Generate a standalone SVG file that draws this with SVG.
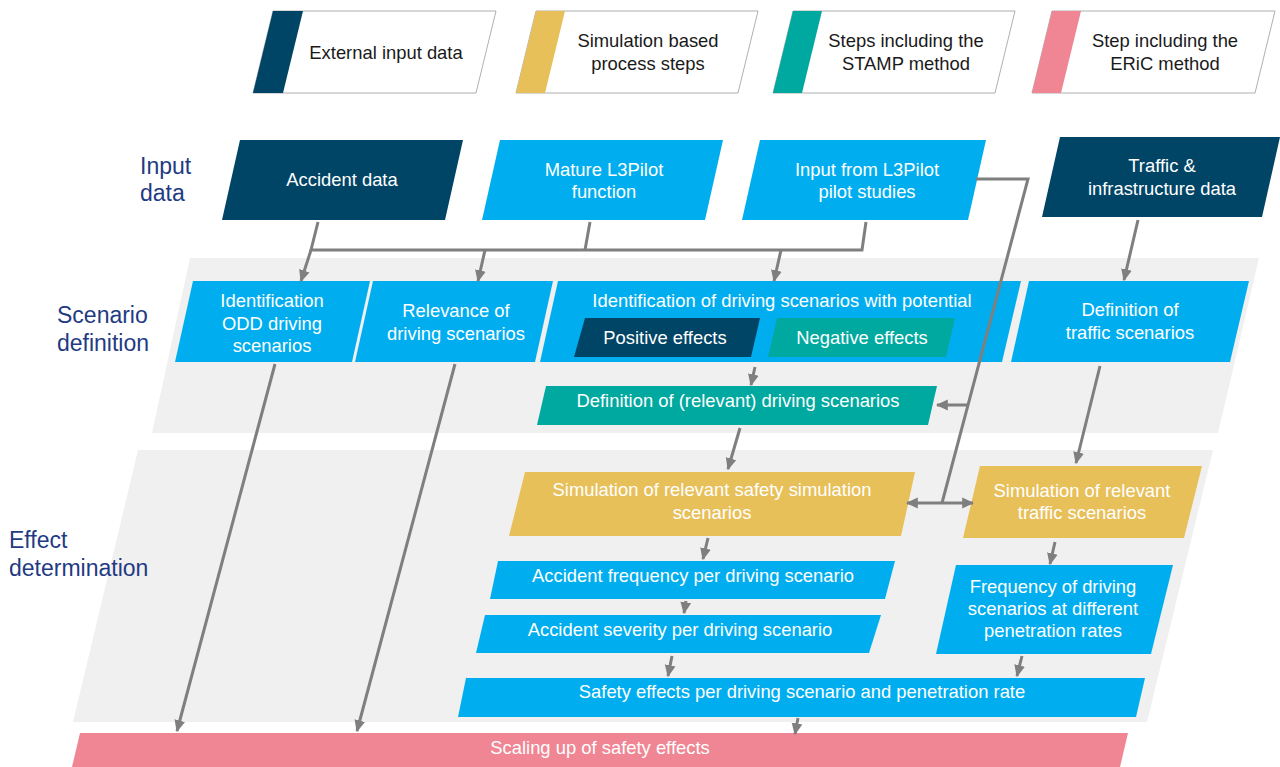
<svg xmlns="http://www.w3.org/2000/svg" width="1280" height="767" viewBox="0 0 1280 767">
<defs>
<style>
.t{font-family:"Liberation Sans",Arial,sans-serif;font-size:18.4px;fill:#ffffff;text-anchor:middle}
.lg{font-family:"Liberation Sans",Arial,sans-serif;font-size:18.4px;fill:#1a1a1a;text-anchor:middle}
.sec{font-family:"Liberation Sans",Arial,sans-serif;font-size:23px;fill:#1F3B83}
.blue{fill:#00AEEF}
.navy{fill:#004466}
.teal{fill:#00A9A0}
.gold{fill:#E8C05A}
.pink{fill:#F08593}
.band{fill:#F0F0F0}
.legbox{fill:#ffffff;stroke:#9a9a9a;stroke-width:0.8}
.c{fill:none;stroke:#7F7F7F;stroke-width:3}
.a{fill:none;stroke:#7F7F7F;stroke-width:3;marker-end:url(#ah)}
.d{fill:none;stroke:#7F7F7F;stroke-width:3;marker-end:url(#ah);marker-start:url(#ah)}
</style>
<marker id="ah" viewBox="0 0 10 10" refX="9" refY="5" markerWidth="4" markerHeight="4" orient="auto-start-reverse" markerUnits="strokeWidth">
<path d="M0,0.5 L10,5 L0,9.5 z" fill="#7F7F7F"/>
</marker>
</defs>
<rect x="0" y="0" width="1280" height="767" fill="#ffffff"/>

<!-- background bands -->
<g id="bands">
<polygon class="band" points="190,258 1259,258 1218,433 152,433"/>
<polygon class="band" points="138,450 1213,450 1147,722 73,722"/>
</g>

<!-- legend -->
<g id="legend-external">
<polygon class="legbox" points="273,11 496,11 476,93 253,93"/>
<polygon class="navy" points="273,11 303,11 283,93 253,93"/>
<text class="lg" x="386" y="59">External input data</text>
</g>
<g id="legend-simulation">
<polygon class="legbox" points="536,11 758,11 738,93 516,93"/>
<polygon class="gold" points="536,11 565,11 545,93 516,93"/>
<text class="lg" x="648" y="47">Simulation based</text>
<text class="lg" x="648" y="70">process steps</text>
</g>
<g id="legend-stamp">
<polygon class="legbox" points="793,11 1015,11 995,93 773,93"/>
<polygon class="teal" points="793,11 822,11 802,93 773,93"/>
<text class="lg" x="906" y="47">Steps including the</text>
<text class="lg" x="906" y="70">STAMP method</text>
</g>
<g id="legend-eric">
<polygon class="legbox" points="1052,11 1275,11 1255,93 1032,93"/>
<polygon class="pink" points="1052,11 1081,11 1061,93 1032,93"/>
<text class="lg" x="1165" y="47">Step including the</text>
<text class="lg" x="1165" y="70">ERiC method</text>
</g>

<!-- section labels -->
<g id="labels">
<text class="sec" x="140" y="174">Input</text>
<text class="sec" x="140" y="201">data</text>
<text class="sec" x="57" y="323">Scenario</text>
<text class="sec" x="57" y="351">definition</text>
<text class="sec" x="9" y="548">Effect</text>
<text class="sec" x="9" y="576">determination</text>
</g>

<!-- input row -->
<g id="accident-data">
<polygon class="navy" points="240,140 463,140 445,220 222,220"/>
<text class="t" x="342" y="186">Accident data</text>
</g>
<g id="mature-function">
<polygon class="blue" points="500,140 723,140 705,220 482,220"/>
<text class="t" x="604" y="176">Mature L3Pilot</text>
<text class="t" x="604" y="198">function</text>
</g>
<g id="pilot-studies">
<polygon class="blue" points="760,140 986,140 968,220 742,220"/>
<text class="t" x="867" y="176">Input from L3Pilot</text>
<text class="t" x="867" y="198">pilot studies</text>
</g>
<g id="traffic-data">
<polygon class="navy" points="1060,137 1280,137 1262,217 1042,217"/>
<text class="t" x="1162" y="172">Traffic &amp;</text>
<text class="t" x="1162" y="195">infrastructure data</text>
</g>

<!-- scenario definition row -->
<g id="odd-scenarios">
<polygon class="blue" points="193,281 370,281 352,362 175,362"/>
<text class="t" x="272" y="307">Identification</text>
<text class="t" x="272" y="330">ODD driving</text>
<text class="t" x="272" y="352">scenarios</text>
</g>
<g id="relevance">
<polygon class="blue" points="373,281 553,281 535,362 355,362"/>
<text class="t" x="456" y="317">Relevance  of</text>
<text class="t" x="456" y="340">driving scenarios</text>
</g>
<g id="potential">
<polygon class="blue" points="558,281 1021,281 1002,362 540,362"/>
<text class="t" x="782" y="307">Identification of driving scenarios with potential</text>
</g>
<g id="positive-effects">
<polygon class="navy" points="585,318 760,318 751,357 574,357"/>
<text class="t" x="665" y="344">Positive effects</text>
</g>
<g id="negative-effects">
<polygon class="teal" points="777,318 955,318 946,357 768,357"/>
<text class="t" x="862" y="344">Negative effects</text>
</g>
<g id="traffic-scenarios">
<polygon class="blue" points="1029,281 1249,281 1230,362 1011,362"/>
<text class="t" x="1130" y="316">Definition of</text>
<text class="t" x="1130" y="339">traffic scenarios</text>
</g>
<g id="relevant-scenarios">
<polygon class="teal" points="546,386 937,386 928,425 537,425"/>
<text class="t" x="738" y="407">Definition of (relevant) driving scenarios</text>
</g>

<!-- effect determination -->
<g id="sim-safety">
<polygon class="gold" points="525,472 915,472 901,536 509,536"/>
<text class="t" x="712" y="496">Simulation of relevant safety simulation</text>
<text class="t" x="712" y="519">scenarios</text>
</g>
<g id="sim-traffic">
<polygon class="gold" points="980,466 1202,466 1184,538 963,538"/>
<text class="t" x="1082" y="497">Simulation of relevant</text>
<text class="t" x="1082" y="519">traffic scenarios</text>
</g>
<g id="acc-frequency">
<polygon class="blue" points="498,561 895,561 885,599 490,599"/>
<text class="t" x="693" y="582">Accident frequency per driving scenario</text>
</g>
<g id="acc-severity">
<polygon class="blue" points="485,615 881,615 869,653 476,653"/>
<text class="t" x="680" y="636">Accident severity per driving scenario</text>
</g>
<g id="freq-penetration">
<polygon class="blue" points="956,565 1173,565 1151,654 936,654"/>
<text class="t" x="1053" y="593">Frequency of driving</text>
<text class="t" x="1053" y="615">scenarios at different</text>
<text class="t" x="1053" y="637">penetration rates</text>
</g>
<g id="safety-effects">
<polygon class="blue" points="466,678 1145,678 1136,717 458,717"/>
<text class="t" x="802" y="698">Safety effects per driving scenario and penetration rate</text>
</g>
<g id="scaling">
<polygon class="pink" points="80,733 1128,733 1120,767 72,767"/>
<text class="t" x="600" y="754">Scaling up of safety effects</text>
</g>

<!-- connectors -->
<g id="connectors">
<polyline class="c" points="318,222 311,250 862,250 866,222"/>
<line class="c" x1="590" y1="222" x2="585" y2="250"/>
<line class="a" x1="311" y1="250" x2="301" y2="281"/>
<line class="a" x1="485" y1="250" x2="478" y2="281"/>
<line class="a" x1="781" y1="250" x2="774" y2="281"/>
<polyline class="c" points="976,179 1028,179 942,503"/>
<line class="a" x1="968" y1="405" x2="937" y2="405"/>
<line class="d" x1="907" y1="503" x2="973" y2="503"/>
<line class="a" x1="1138" y1="220" x2="1124" y2="280"/>
<line class="a" x1="1100" y1="366" x2="1076" y2="463"/>
<line class="a" x1="275" y1="364" x2="177" y2="731"/>
<line class="a" x1="455" y1="364" x2="357" y2="731"/>
<line class="a" x1="755" y1="367" x2="751" y2="385"/>
<line class="a" x1="740" y1="428" x2="728" y2="469"/>
<line class="a" x1="708" y1="538" x2="703" y2="559"/>
<line class="a" x1="686" y1="601" x2="684" y2="613"/>
<line class="a" x1="672" y1="656" x2="668" y2="676"/>
<line class="a" x1="1055" y1="542" x2="1050" y2="564"/>
<line class="a" x1="1022" y1="656" x2="1017" y2="676"/>
<line class="a" x1="798" y1="718" x2="795" y2="734"/>
</g>
</svg>
